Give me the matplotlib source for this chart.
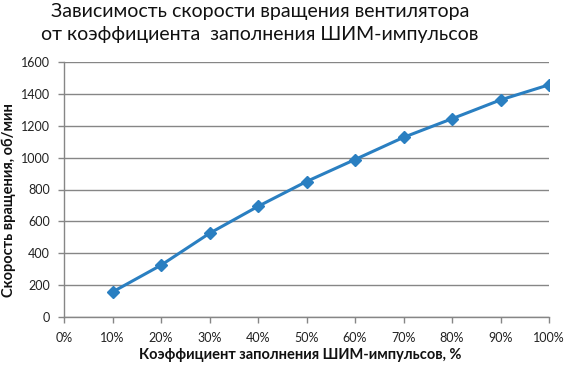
import matplotlib
matplotlib.use('Agg')
import matplotlib.pyplot as plt
from matplotlib.ticker import FuncFormatter

# data
duty = [10, 20, 30, 40, 50, 60, 70, 80, 90, 100]
rpm = [157, 325, 525, 694, 850, 988, 1127, 1244, 1362, 1457]
y_ticks = [0, 200, 400, 600, 800, 1000, 1200, 1400, 1600]
x_ticks = [0, 10, 20, 30, 40, 50, 60, 70, 80, 90, 100]

title = 'Зависимость скорости вращения вентилятора\nот коэффициента  заполнения ШИМ-импульсов'
xlabel = 'Коэффициент заполнения ШИМ-импульсов, %'
ylabel = 'Скорость вращения, об/мин'

plt.rcParams['font.family'] = ['Lato', 'DejaVu Sans']
grid_col = '#868686'
line_col = '#2a7fc1'

fig = plt.figure(figsize=(5.64, 3.68), dpi=100)
ax = fig.add_axes([64 / 564, 1 - 317 / 368, 485 / 564, 255 / 368])

ax.plot(duty, rpm, color=line_col, linewidth=2.2, marker='D', markersize=6,
        markeredgecolor=line_col, markerfacecolor=line_col)

ax.set_xlim(0, 100)
ax.set_ylim(0, 1600)
ax.set_xticks(x_ticks)
ax.set_yticks(y_ticks)
ax.xaxis.set_major_formatter(FuncFormatter(lambda v, p: f'{int(v)}%'))
ax.grid(axis='y', color=grid_col, linewidth=1)
ax.set_axisbelow(True)

for s in ['top', 'right']:
    ax.spines[s].set_visible(False)
for s in ['left', 'bottom']:
    ax.spines[s].set_color(grid_col)
    ax.spines[s].set_linewidth(1)

ax.tick_params(axis='both', colors=grid_col, length=4, width=1, labelsize=9,
               labelcolor='#222222')
ax.tick_params(axis='y', pad=6)
ax.tick_params(axis='x', pad=7)

fig.text(260 / 564, 1 - 23 / 368, title, ha='center', va='center',
         fontsize=14, linespacing=1.45, color='#111111')
fig.text(300 / 564, 1 - 355 / 368, xlabel, ha='center', va='center',
         fontsize=10.5, fontweight='bold', color='#111111')
fig.text(9 / 564, 1 - 200 / 368, ylabel, ha='center', va='center',
         rotation=90, fontsize=10.5, fontweight='bold', color='#111111')

fig.savefig('out.png', dpi=100)
plt.close(fig)
